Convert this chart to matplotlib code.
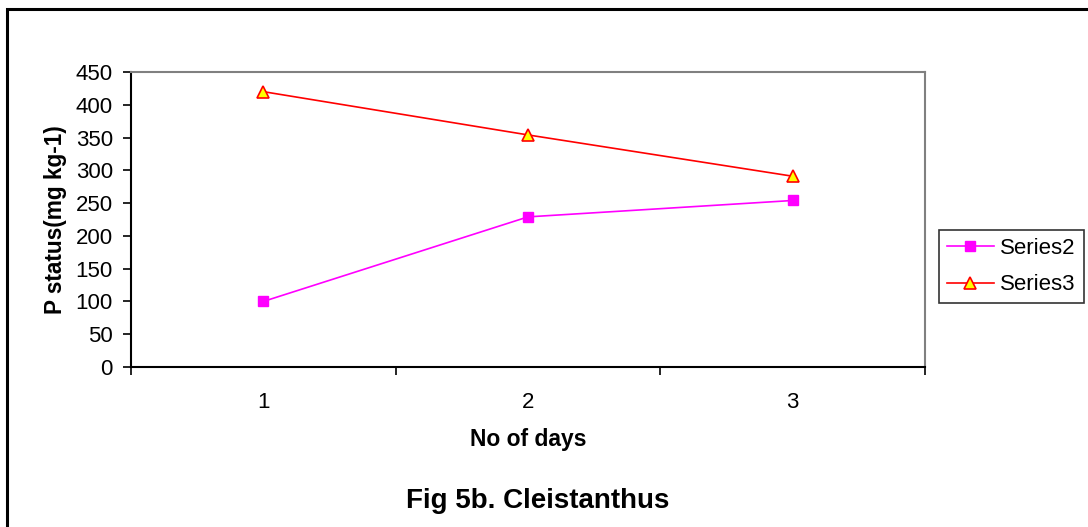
import matplotlib
matplotlib.use("Agg")
import matplotlib.pyplot as plt
from matplotlib.patches import Rectangle

plt.rcParams['font.family'] = ['Liberation Sans', 'DejaVu Sans']

# P status over the sampling days
days = [1, 2, 3]
series2 = [100, 229, 254]
series3 = [420, 354, 291]
yticks = [0, 50, 100, 150, 200, 250, 300, 350, 400, 450]

fig = plt.figure(figsize=(10.88, 5.27), dpi=100)
ax = fig.add_axes([0.1204, 0.3036, 0.7298, 0.5598])

ax.plot(days, series2, color='#ff00ff', lw=1.2, marker='s', markersize=7,
        markerfacecolor='#ff00ff', markeredgecolor='#ff00ff', label='Series2')
ax.plot(days, series3, color='#ff0000', lw=1.2, marker='^', markersize=8,
        markerfacecolor='#ffff00', markeredgecolor='#ff0000', markeredgewidth=1.2,
        label='Series3')

# category axis: ticks sit between the days
ax.set_xlim(0.5, 3.5)
ax.set_xticks([0.5, 1.5, 2.5, 3.5])
ax.set_xticklabels([])
ax.set_xticks(days, minor=True)
ax.set_xticklabels([str(d) for d in days], minor=True, fontsize=16)
ax.tick_params(axis='x', which='minor', length=0, pad=18)
ax.tick_params(axis='x', which='major', direction='out', length=6, width=1.2)

ax.set_ylim(0, 450)
ax.set_yticks(yticks)
ax.set_yticklabels([str(v) for v in yticks], fontsize=16)
ax.tick_params(axis='y', direction='out', length=6, width=1.2, pad=7)

for side in ['left', 'bottom']:
    ax.spines[side].set_linewidth(1.5)
    ax.spines[side].set_color('black')
for side in ['top', 'right']:
    ax.spines[side].set_linewidth(1.5)
    ax.spines[side].set_color('#808080')

ax.set_xlabel('No of days', fontsize=16.5, fontweight='bold', labelpad=11)
ax.set_ylabel('P status(mg kg-1)', fontsize=16.3, fontweight='bold', labelpad=6)

fig.text(0.494, 0.049, 'Fig 5b. Cleistanthus', fontsize=20, fontweight='bold',
         ha='center', va='center')

leg = ax.legend(loc='center left', bbox_to_anchor=(1.018, 0.34), fontsize=16,
                frameon=True, fancybox=False, edgecolor='black',
                borderpad=0.35, handlelength=2.1, handletextpad=0.3, labelspacing=0.7,
                borderaxespad=0)
leg.get_frame().set_linewidth(1.2)

# outer chart border, open on the right and bottom
fig.patches.append(Rectangle((6.5 / 1088, -0.05), 1.2, 1 - 8.5 / 527 + 0.05,
                             transform=fig.transFigure, fill=False,
                             edgecolor='black', lw=2.2))

fig.savefig('out.png', dpi=100)
